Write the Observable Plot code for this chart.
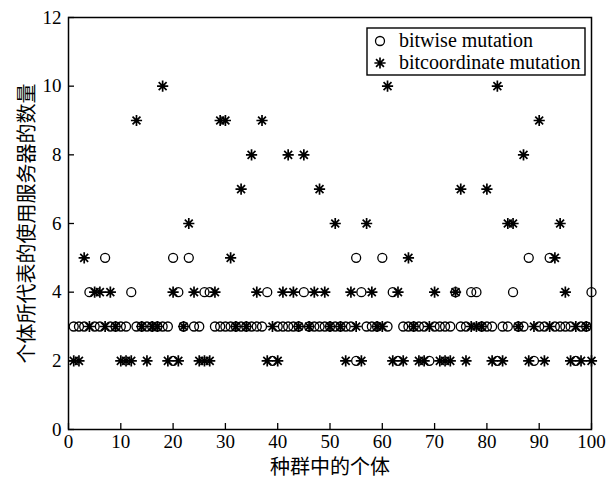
<!DOCTYPE html>
<html>
<head>
<meta charset="utf-8">
<script src="https://cdn.jsdelivr.net/npm/d3@7"></script>
<script src="https://cdn.jsdelivr.net/npm/@observablehq/plot@0.6"></script>
<style>
  html, body { margin: 0; padding: 0; background: #fff; }
  #chart { position: relative; width: 616px; height: 480px; }
  #legend { position: absolute; left: 0; top: 0; pointer-events: none; }
</style>
</head>
<body>
<div id="chart"></div>
<script>
// Axis ticks and titles
const xTicks = [0, 10, 20, 30, 40, 50, 60, 70, 80, 90, 100];
const yTicks = [0, 2, 4, 6, 8, 10, 12];
const xTitle = "种群中的个体";
const yTitle = "个体所代表的使用服务器的数量";
const seriesNames = ["bitwise mutation", "bitcoordinate mutation"];

// bitwise mutation: individuals grouped by the number of servers they use
const bitwise2 = [20, 39, 55, 63, 69, 82, 89, 97];
const bitwise3 = [1, 2, 3, 5, 6, 8, 9, 10, 11, 13, 14, 15, 16, 17, 18, 19, 22, 24, 25,
  28, 29, 30, 31, 32, 33, 34, 35, 36, 37, 40, 41, 42, 43, 44, 46, 47, 48, 49, 50, 51,
  52, 53, 54, 57, 58, 59, 61, 64, 65, 66, 67, 68, 70, 71, 72, 73, 75, 76, 79, 80, 81,
  83, 84, 86, 87, 90, 91, 93, 94, 95, 96, 98, 99];
const bitwise4 = [4, 12, 21, 26, 27, 38, 45, 56, 62, 74, 77, 78, 85, 100];
const bitwise5 = [7, 20, 23, 55, 60, 88, 92];

// bitcoordinate mutation: individuals grouped by the number of servers they use
const bitcoord2 = [1, 2, 10, 11, 12, 15, 19, 21, 25, 26, 27, 38, 40, 53, 56, 62, 64, 67,
  68, 71, 72, 73, 76, 81, 83, 88, 91, 96, 98, 100];
const bitcoord3 = [4, 7, 9, 14, 16, 17, 22, 32, 34, 39, 44, 46, 50, 52, 55, 59, 60, 66,
  69, 77, 78, 79, 86, 89, 92, 97, 99];
const bitcoord4 = [5, 6, 8, 20, 24, 28, 36, 41, 43, 47, 49, 54, 58, 63, 70, 74, 95];
const bitcoord5 = [3, 31, 65, 93];
const bitcoord6 = [23, 51, 57, 84, 85, 94];
const bitcoord7 = [33, 48, 75, 80];
const bitcoord8 = [35, 42, 45, 87];
const bitcoord9 = [13, 29, 30, 37, 90];
const bitcoord10 = [18, 61, 82];

// Flatten the groups into {x, y} rows for the dot marks
const rows = (groups) => groups.flatMap(([servers, ids]) => ids.map((id) => ({x: id, y: servers})));
const bitwiseRows = rows([[2, bitwise2], [3, bitwise3], [4, bitwise4], [5, bitwise5]]);
const bitcoordRows = rows([[2, bitcoord2], [3, bitcoord3], [4, bitcoord4], [5, bitcoord5],
  [6, bitcoord6], [7, bitcoord7], [8, bitcoord8], [9, bitcoord9], [10, bitcoord10]]);

// Eight-armed asterisk (a "+" over an "x")
const star8 = {
  draw(context, size) {
    const r = Math.sqrt(size / Math.PI);
    const d = r * Math.SQRT1_2;
    context.moveTo(-r, 0); context.lineTo(r, 0);
    context.moveTo(0, -r); context.lineTo(0, r);
    context.moveTo(-d, -d); context.lineTo(d, d);
    context.moveTo(-d, d); context.lineTo(d, -d);
  }
};

const serif = "'Liberation Serif', 'Times New Roman', serif";
const cjk = "'Noto Sans CJK SC', sans-serif";
const circleR = 4.5, starR = 5.6;

const chart = Plot.plot({
  width: 616,
  height: 480,
  marginLeft: 68,
  marginRight: 25,
  marginTop: 17,
  marginBottom: 51,
  style: {fontFamily: serif, fontSize: "19px", color: "#000", background: "#fff", overflow: "visible"},
  x: {domain: [0, 100]},
  y: {domain: [0, 12]},
  marks: [
    Plot.frame({stroke: "#000", strokeWidth: 1.5}),
    Plot.axisX({ticks: xTicks, tickSize: -6, tickPadding: 10.5, label: null, fontSize: 19, strokeWidth: 1.3}),
    Plot.axisY({ticks: yTicks, tickSize: -6, tickPadding: 13, label: null, fontSize: 19, strokeWidth: 1.3}),
    Plot.dot(bitwiseRows, {x: "x", y: "y", r: circleR, symbol: "circle", fill: "none", stroke: "#000", strokeWidth: 1.3}),
    Plot.dot(bitcoordRows, {x: "x", y: "y", r: starR, symbol: star8, fill: "none", stroke: "#000", strokeWidth: 1.7}),
    Plot.text([xTitle], {text: (d) => d, frameAnchor: "bottom", dy: 38, textAnchor: "middle", lineAnchor: "middle",
      fontFamily: cjk, fontSize: 20, fill: "#000"}),
    Plot.text([yTitle], {text: (d) => d, frameAnchor: "left", dx: -41, rotate: -90, textAnchor: "middle",
      lineAnchor: "middle", fontFamily: cjk, fontSize: 20, fill: "#000"})
  ]
});

const root = document.getElementById("chart");
root.appendChild(chart);

// Legend box in the upper right corner of the plot
const legend = d3.select(root).append("svg")
  .attr("id", "legend")
  .attr("width", 616)
  .attr("height", 480);
const g = legend.append("g").attr("transform", "translate(367,28)");
g.append("rect")
  .attr("x", 0).attr("y", 0).attr("width", 218).attr("height", 47)
  .attr("fill", "#fff").attr("stroke", "#000").attr("stroke-width", 1.4);
g.append("circle")
  .attr("cx", 13).attr("cy", 13).attr("r", circleR)
  .attr("fill", "none").attr("stroke", "#000").attr("stroke-width", 1.3);
const p = d3.path();
star8.draw(p, Math.PI * starR * starR);
g.append("path")
  .attr("transform", "translate(13,35)")
  .attr("d", p.toString())
  .attr("fill", "none").attr("stroke", "#000").attr("stroke-width", 1.7);
g.selectAll("text.item")
  .data(seriesNames)
  .join("text")
  .attr("class", "item")
  .attr("x", 32)
  .attr("y", (d, i) => 19 + i * 22)
  .attr("font-family", serif)
  .attr("font-size", 20)
  .attr("fill", "#000")
  .text((d) => d);
</script>
</body>
</html>
